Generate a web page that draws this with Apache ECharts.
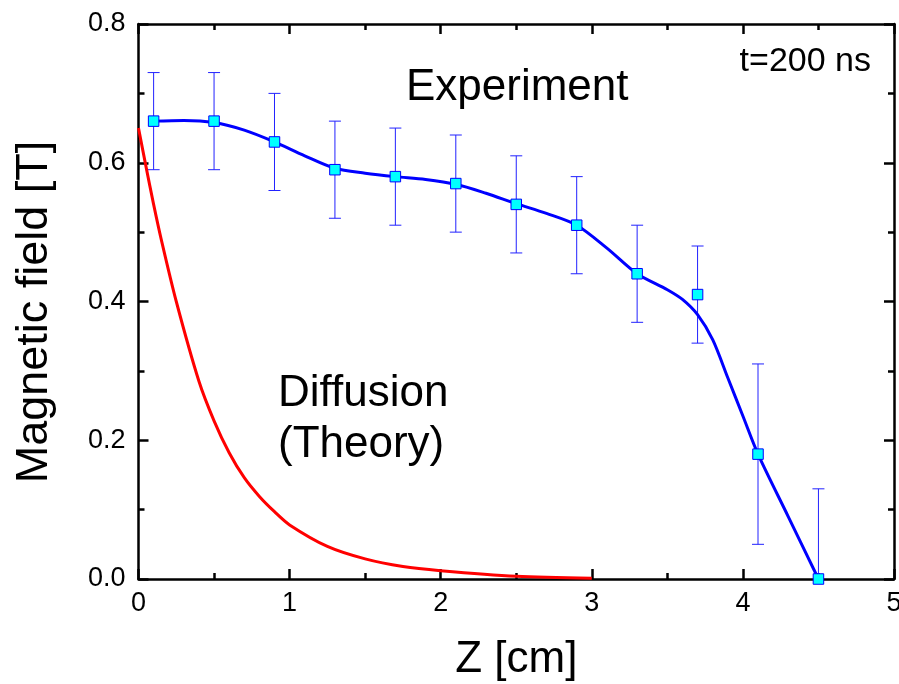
<!DOCTYPE html>
<html>
<head>
<meta charset="utf-8">
<script src="https://cdn.jsdelivr.net/npm/echarts@6/dist/echarts.min.js"></script>
<style>
  html, body { margin: 0; padding: 0; background: #ffffff; overflow: hidden; }
  #chart { width: 899px; height: 684px; }
</style>
</head>
<body>
<div id="chart"></div>
<script>
// Measured field along Z (cm) with error bars
const zExp = [0.1, 0.5, 0.9, 1.3, 1.7, 2.1, 2.5, 2.9, 3.3, 3.7, 4.1, 4.5];
const bExp = [0.66, 0.66, 0.63, 0.59, 0.58, 0.57, 0.54, 0.51, 0.44, 0.41, 0.18, 0.0];
const bErr = [0.07, 0.07, 0.07, 0.07, 0.07, 0.07, 0.07, 0.07, 0.07, 0.07, 0.13, 0.13];

// Smooth guide line through the measurements
const zFit = [0.1, 0.3, 0.5, 0.7, 0.9, 1.1, 1.3, 1.5, 1.7, 1.9, 2.1, 2.3, 2.5, 2.7, 2.9, 3.1, 3.3, 3.5, 3.6, 3.7, 3.8, 3.9, 4.0, 4.1, 4.3, 4.5];
const bFit = [0.66, 0.661, 0.658, 0.647, 0.63, 0.61, 0.592, 0.585, 0.58, 0.576, 0.569, 0.556, 0.541, 0.527, 0.51, 0.477, 0.44, 0.417, 0.403, 0.381, 0.345, 0.29, 0.235, 0.18, 0.09, 0.0];

// Diffusion model curve
const zTheory = [0, 0.05, 0.1, 0.15, 0.25, 0.4, 0.5, 0.6, 0.7, 0.8, 0.9, 1.0, 1.25, 1.5, 1.75, 2.0, 2.5, 3.0];
const bTheory = [0.65, 0.594, 0.54, 0.49, 0.40, 0.285, 0.228, 0.182, 0.146, 0.119, 0.097, 0.078, 0.047, 0.029, 0.018, 0.012, 0.004, 0.001];

// Axis ticks
const xTicks = ['0', '1', '2', '3', '4', '5'];
const yTicks = ['0.0', '0.2', '0.4', '0.6', '0.8'];

const FONT = "'Liberation Sans', Arial, Helvetica, sans-serif";
const pair = (xs, ys) => xs.map((x, i) => [x, ys[i]]);

const chart = echarts.init(document.getElementById('chart'), null, { renderer: 'canvas' });

const axisLine = { show: true, onZero: false, lineStyle: { color: '#000', width: 2.5 } };
const axisTick = { show: true, inside: true, length: 10, lineStyle: { color: '#000', width: 2.5 } };
const minorTick = { show: true, splitNumber: 2, length: 6, lineStyle: { color: '#000', width: 2.5 } };

const option = {
  animation: false,
  backgroundColor: '#ffffff',
  grid: { left: 138.5, right: 5, top: 24, bottom: 105, containLabel: false, outerBoundsMode: 'none' },
  xAxis: [
    {
      type: 'value', min: 0, max: 5, interval: 1, position: 'bottom',
      name: 'Z [cm]', nameLocation: 'middle', nameGap: 59,
      nameTextStyle: { fontFamily: FONT, fontSize: 44, color: '#000' },
      axisLine, axisTick, minorTick,
      splitLine: { show: false }, minorSplitLine: { show: false },
      axisLabel: {
        margin: 11, fontFamily: FONT, fontSize: 27, color: '#000',
        formatter: v => xTicks[Math.round(v)]
      }
    },
    {
      type: 'value', min: 0, max: 5, interval: 1, position: 'top',
      axisLine, axisTick, minorTick,
      splitLine: { show: false }, axisLabel: { show: false }
    }
  ],
  yAxis: [
    {
      type: 'value', min: 0, max: 0.8, interval: 0.2, position: 'left',
      axisLine, axisTick, minorTick,
      splitLine: { show: false }, minorSplitLine: { show: false },
      axisLabel: {
        margin: 13, fontFamily: FONT, fontSize: 27, color: '#000',
        formatter: v => yTicks[Math.round(v / 0.2)]
      }
    },
    {
      type: 'value', min: 0, max: 0.8, interval: 0.2, position: 'right',
      axisLine, axisTick, minorTick,
      splitLine: { show: false }, axisLabel: { show: false }
    }
  ],
  series: [
    {
      // vertical error bars with caps
      type: 'custom',
      name: 'errors',
      clip: true,
      z: 2,
      data: zExp.map((x, i) => [x, bExp[i] - bErr[i], bExp[i] + bErr[i]]),
      renderItem: function (params, api) {
        const x = api.value(0);
        const lo = api.coord([x, api.value(1)]);
        const hi = api.coord([x, api.value(2)]);
        const half = 6;
        const style = { stroke: '#2222ff', lineWidth: 1, fill: null };
        return {
          type: 'group',
          children: [
            { type: 'line', shape: { x1: lo[0], y1: lo[1], x2: hi[0], y2: hi[1] }, style },
            { type: 'line', shape: { x1: hi[0] - half, y1: hi[1], x2: hi[0] + half, y2: hi[1] }, style },
            { type: 'line', shape: { x1: lo[0] - half, y1: lo[1], x2: lo[0] + half, y2: lo[1] }, style }
          ]
        };
      }
    },
    {
      type: 'line',
      name: 'Diffusion (Theory)',
      data: pair(zTheory, bTheory),
      smooth: 0.3,
      showSymbol: false,
      symbol: 'none',
      lineStyle: { color: '#ff0000', width: 3 },
      z: 3
    },
    {
      type: 'line',
      name: 'Experiment fit',
      data: pair(zFit, bFit),
      smooth: 0.3,
      showSymbol: false,
      symbol: 'none',
      lineStyle: { color: '#0000ff', width: 3 },
      z: 4
    },
    {
      type: 'scatter',
      name: 'Experiment',
      data: pair(zExp, bExp),
      symbol: 'rect',
      symbolSize: 10.5,
      itemStyle: { color: '#00ffff', borderColor: '#0000ff', borderWidth: 1, opacity: 1 },
      z: 5
    }
  ],
  graphic: [
    {
      type: 'text', x: 35, y: 312, rotation: Math.PI / 2,
      style: { text: 'Magnetic field [T]', font: '45px ' + FONT, fill: '#000', textAlign: 'center', textVerticalAlign: 'middle' }
    },
    {
      type: 'text', x: 406, y: 88,
      style: { text: 'Experiment', font: '44px ' + FONT, fill: '#000', textAlign: 'left', textVerticalAlign: 'middle' }
    },
    {
      type: 'text', x: 871, y: 62,
      style: { text: 't=200 ns', font: '34px ' + FONT, fill: '#000', textAlign: 'right', textVerticalAlign: 'middle' }
    },
    {
      type: 'text', x: 278, y: 394,
      style: { text: 'Diffusion', font: '44px ' + FONT, fill: '#000', textAlign: 'left', textVerticalAlign: 'middle' }
    },
    {
      type: 'text', x: 278, y: 445,
      style: { text: '(Theory)', font: '44px ' + FONT, fill: '#000', textAlign: 'left', textVerticalAlign: 'middle' }
    }
  ]
};

chart.setOption(option);
</script>
</body>
</html>
